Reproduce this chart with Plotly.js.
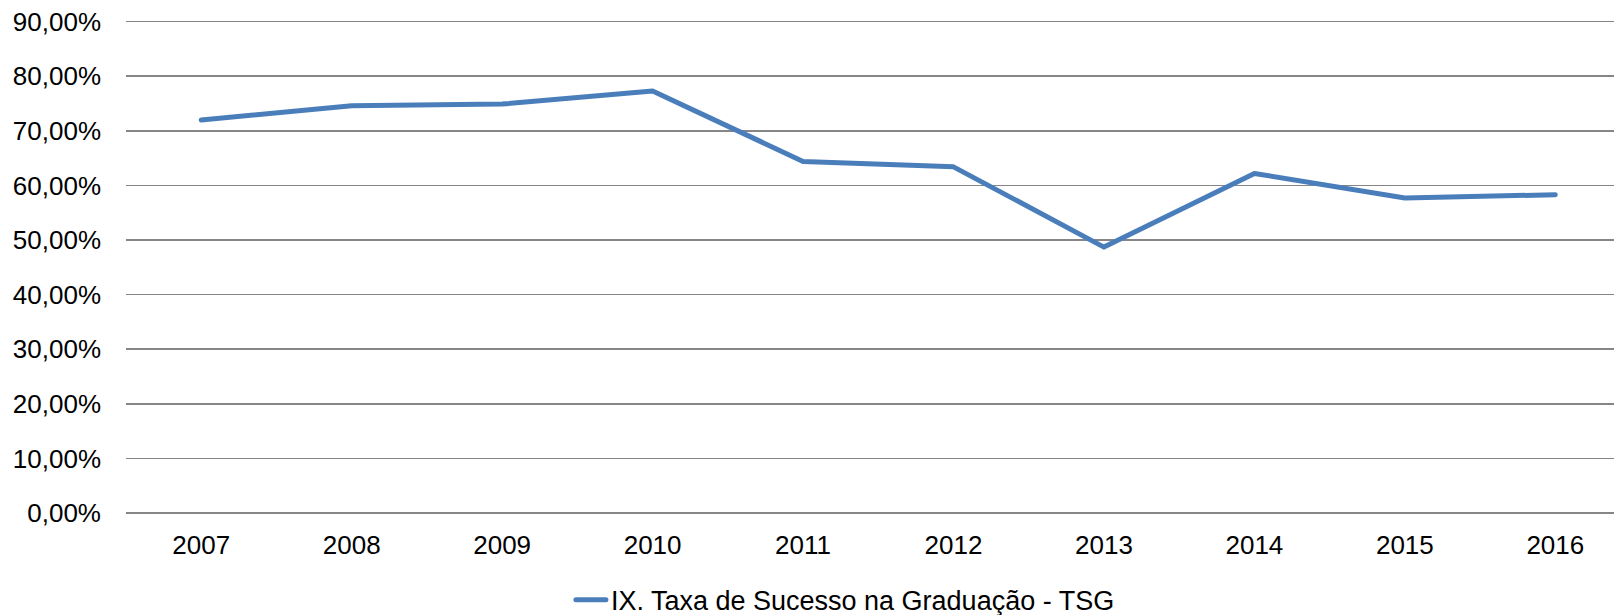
<!DOCTYPE html>
<html>
<head>
<meta charset="utf-8">
<script src="https://cdn.plot.ly/plotly-3.0.1.min.js"></script>
<style>
html,body{margin:0;padding:0;background:#fff;}
#chart{width:1614px;height:615px;}
#chart .scatterlayer path.js-line, #chart .legend path.js-line{stroke-linecap:round !important;stroke-linejoin:round !important;}
</style>
</head>
<body>
<div id="chart"></div>
<script>
const years = ['2007','2008','2009','2010','2011','2012','2013','2014','2015','2016'];
const tsg = [0.720, 0.746, 0.749, 0.773, 0.644, 0.634, 0.487, 0.622, 0.577, 0.583];
const seriesName = 'IX. Taxa de Sucesso na Graduação - TSG';

const font = 'Liberation Sans, Arial, sans-serif';
Plotly.newPlot('chart', [{
  x: years, y: tsg, type: 'scatter', mode: 'lines', name: seriesName,
  line: {color: '#4A7EBB', width: 5}
}], {
  width: 1614, height: 615,
  margin: {l: 126, r: 0, t: 19.7, b: 102, pad: 0, autoexpand: false},
  paper_bgcolor: '#fff', plot_bgcolor: '#fff',
  separators: ',.',
  font: {family: font, size: 26, color: '#000'},
  showlegend: true,
  legend: {orientation: 'h', x: 0.299, xanchor: 'left', y: -0.177, yanchor: 'middle',
           font: {family: font, size: 27, color: '#000'}},
  xaxis: {type: 'category', range: [-0.5, 9.39], showgrid: false, zeroline: false,
          showline: false, ticks: '', ticklabelstandoff: 14, automargin: false,
          tickfont: {family: font, size: 26, color: '#000'}},
  yaxis: {range: [0, 0.903], tickvals: [0,0.1,0.2,0.3,0.4,0.5,0.6,0.7,0.8,0.9], tickformat: '.2%',
          showgrid: true, gridcolor: '#868686', gridwidth: 1.5, automargin: false,
          zeroline: true, zerolinecolor: '#868686', zerolinewidth: 1.6,
          showline: false, ticks: '', ticklabelstandoff: 24,
          tickfont: {family: font, size: 26, color: '#000'}}
}, {displayModeBar: false, staticPlot: true});
</script>
</body>
</html>
